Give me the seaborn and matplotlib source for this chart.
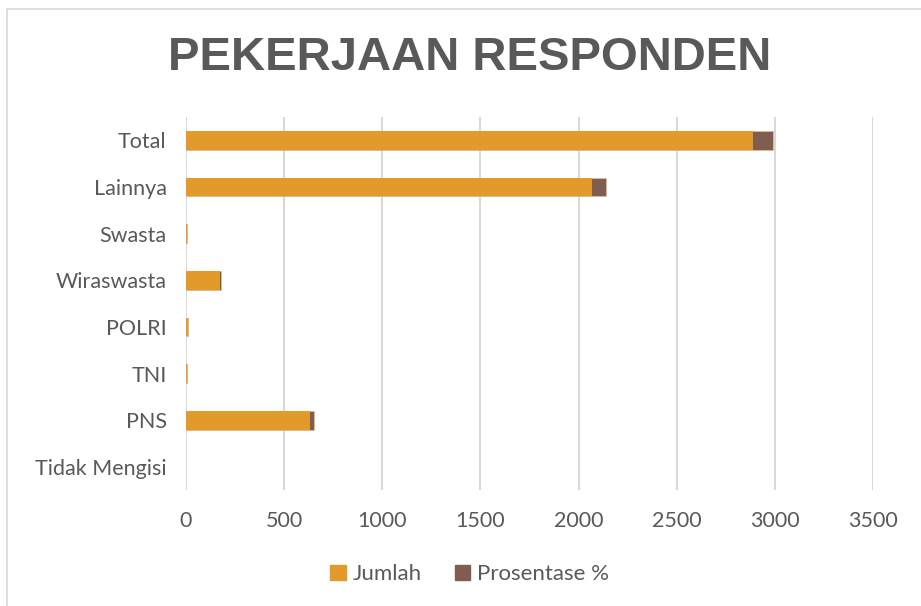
import pandas as pd
import seaborn as sns
import matplotlib.pyplot as plt
from matplotlib.patches import Patch, Rectangle

pekerjaan = ['Total', 'Lainnya', 'Swasta', 'Wiraswasta', 'POLRI', 'TNI', 'PNS', 'Tidak Mengisi']
jumlah = [2890, 2069, 3, 173, 10, 4, 631, 0]
prosentase = [100, 71.59, 0.10, 5.99, 0.35, 0.14, 21.83, 0]

df = pd.DataFrame({'Pekerjaan': pekerjaan, 'Jumlah': jumlah, 'Prosentase': prosentase})
# batang bertumpuk: total kumulatif digambar dulu, lalu jumlah di atasnya
df['Kumulatif'] = df['Jumlah'] + df['Prosentase']

warna_jumlah = '#E29A2A'
warna_pros = '#7F5E51'
abu = '#595959'

sns.set_theme(style='white')
plt.rcParams['font.family'] = ['Lato', 'DejaVu Sans']

fig = plt.figure(figsize=(9.21, 6.06), dpi=100)
ax = fig.add_axes([0.202, 0.191, 0.746, 0.616])

sns.barplot(data=df, y='Pekerjaan', x='Kumulatif', color=warna_pros, orient='h',
            width=0.4, ax=ax, zorder=3, saturation=1, edgecolor='#E8B98A', linewidth=0.6)
sns.barplot(data=df, y='Pekerjaan', x='Jumlah', color=warna_jumlah, orient='h',
            width=0.4, ax=ax, zorder=4, saturation=1, linewidth=0)
# batang kosong tidak perlu garis tepi
for p in ax.patches:
    if p.get_width() == 0:
        p.set_linewidth(0)

ax.set_xlim(0, 3500)
ax.set_xticks(range(0, 3501, 500))
ax.grid(axis='x', color='#D9D9D9', linewidth=1.5, zorder=0)
ax.grid(axis='y', visible=False)
for s in ax.spines.values():
    s.set_visible(False)
ax.set_xlabel('')
ax.set_ylabel('')
ax.tick_params(axis='both', length=0, labelsize=15.5, colors=abu)
ax.tick_params(axis='x', pad=15)
ax.tick_params(axis='y', pad=14)

fig.text(0.51, 0.905, 'PEKERJAAN RESPONDEN', ha='center', va='center',
         fontsize=34, fontweight='bold', color=abu, family='Liberation Sans')

handles = [Patch(color=warna_jumlah, label='Jumlah'), Patch(color=warna_pros, label='Prosentase %')]
fig.legend(handles=handles, loc='center', bbox_to_anchor=(0.51, 0.052), ncol=2, frameon=False,
           fontsize=16, labelcolor=abu, handlelength=0.7, handleheight=0.7,
           handletextpad=0.3, columnspacing=1.5)

fig.patches.append(Rectangle((0.008, -0.01), 1.0, 0.995, transform=fig.transFigure,
                             fill=False, edgecolor='#D9D9D9', linewidth=1.2))

fig.savefig('out.png', dpi=100)
